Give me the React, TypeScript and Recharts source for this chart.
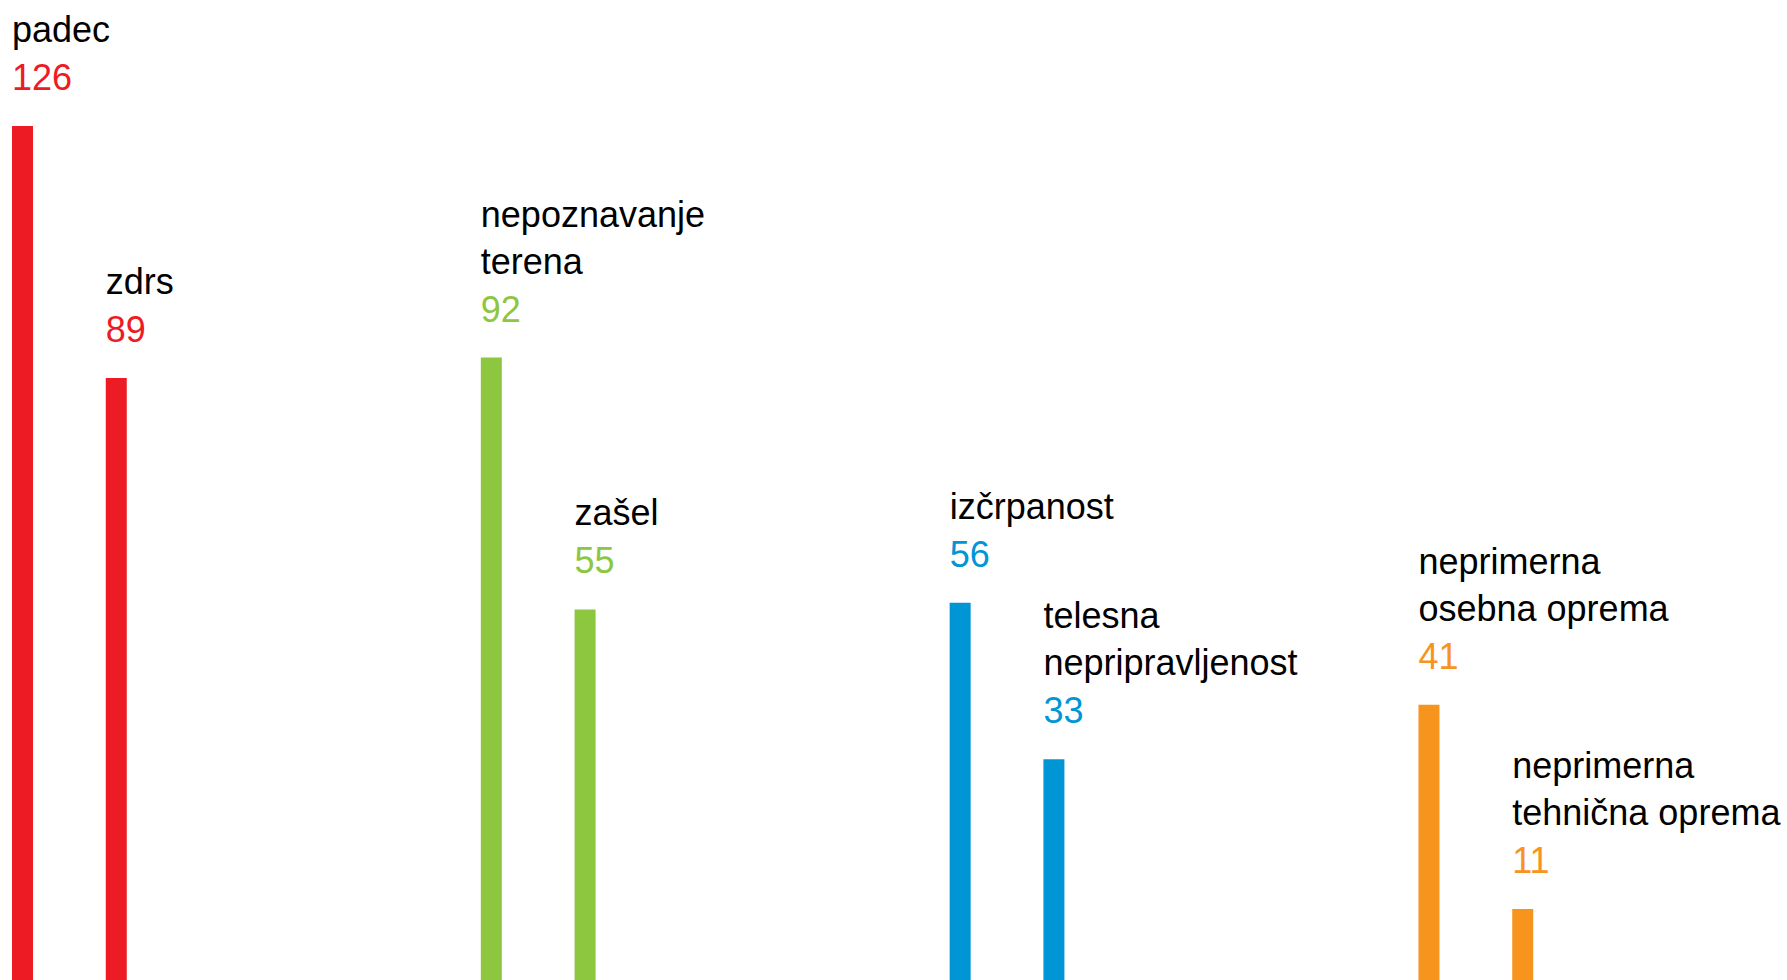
import React from 'react';
import { BarChart, Bar, XAxis, YAxis, Cell, LabelList } from 'recharts';

// ---- data ----
const causes = [
  'padec',
  'zdrs',
  'nepoznavanje terena',
  'zašel',
  'izčrpanost',
  'telesna nepripravljenost',
  'neprimerna osebna oprema',
  'neprimerna tehnična oprema',
];
const labelLines = [
  ['padec'],
  ['zdrs'],
  ['nepoznavanje', 'terena'],
  ['zašel'],
  ['izčrpanost'],
  ['telesna', 'nepripravljenost'],
  ['neprimerna', 'osebna oprema'],
  ['neprimerna', 'tehnična oprema'],
];
const counts = [126, 89, 92, 55, 56, 33, 41, 11];
const groupOf = [0, 0, 1, 1, 2, 2, 3, 3];
const groupColors = ['#ED1C24', '#8DC63F', '#0096D6', '#F7941D'];
const spacersBetweenGroups = 3;

type Row = { key: string; value: number | null; idx: number };

const rows: Row[] = [];
causes.forEach((c, i) => {
  if (i > 0 && groupOf[i] !== groupOf[i - 1]) {
    for (let s = 0; s < spacersBetweenGroups; s++) {
      rows.push({ key: `gap-${i}-${s}`, value: null, idx: -1 });
    }
  }
  rows.push({ key: c, value: counts[i], idx: i });
});

const FONT = '"Liberation Sans", Arial, Helvetica, sans-serif';

const renderLabel = (props: any) => {
  const { x, y, value } = props;
  const i = causes.indexOf(value);
  if (i < 0 || x == null || y == null) return null;
  const color = groupColors[groupOf[i]];
  const valueBaseline = Number(y) - 36;
  const lines = labelLines[i];
  const lastNameBaseline = valueBaseline - 48;
  return (
    <g>
      {lines.map((ln, k) => (
        <text
          key={k}
          x={Number(x)}
          y={lastNameBaseline - (lines.length - 1 - k) * 47}
          fill="#000"
          fontSize={36}
          fontFamily={FONT}
          textAnchor="start"
        >
          {ln}
        </text>
      ))}
      <text
        x={Number(x)}
        y={valueBaseline}
        fill={color}
        fontSize={36}
        fontFamily={FONT}
        textAnchor="start"
      >
        {counts[i]}
      </text>
    </g>
  );
};

export default function App() {
  return (
    <div
      style={{
        position: 'absolute',
        left: 0,
        top: 0,
        width: 1787,
        height: 980,
        overflow: 'hidden',
        background: '#ffffff',
      }}
    >
      <div style={{ position: 'absolute', left: -24, top: 0 }}>
        <BarChart
          width={1824}
          height={990}
          data={rows}
          margin={{ top: 126, right: 230, bottom: 6, left: 0 }}
          barCategoryGap={0}
        >
          <XAxis dataKey="key" hide />
          <YAxis hide domain={[0, 126]} />
          <Bar dataKey="value" barSize={21} isAnimationActive={false}>
            {rows.map((r) => (
              <Cell
                key={r.key}
                fill={r.idx >= 0 ? groupColors[groupOf[r.idx]] : 'transparent'}
              />
            ))}
            <LabelList dataKey="key" content={renderLabel} />
          </Bar>
        </BarChart>
      </div>
    </div>
  );
}
